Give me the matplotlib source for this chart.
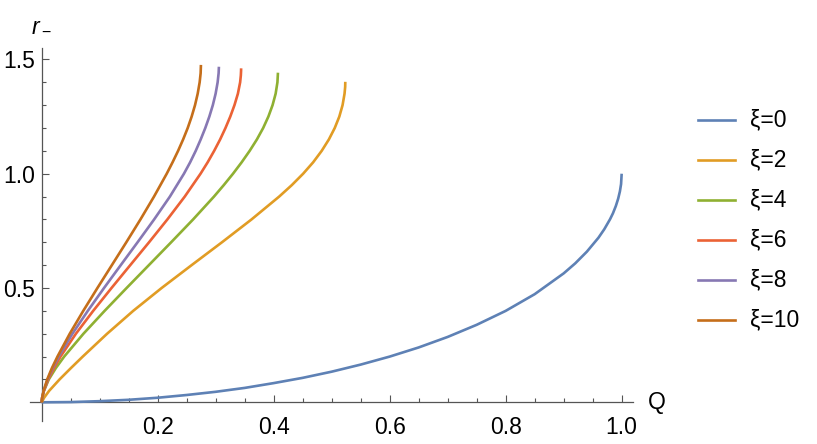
import numpy as np
import matplotlib
matplotlib.use("Agg")
from matplotlib import pyplot as plt
from matplotlib.lines import Line2D
from matplotlib.ticker import FixedLocator

plt.rcParams['font.family'] = ['Liberation Sans', 'DejaVu Sans']
plt.rcParams['mathtext.fontset'] = 'custom'
plt.rcParams['mathtext.it'] = 'Liberation Sans:italic'
plt.rcParams['mathtext.rm'] = 'Liberation Sans'

# values (Q, r_-)
q_xi0 = [0, 0.05, 0.1, 0.15, 0.2, 0.25, 0.3, 0.35, 0.4, 0.45, 0.5, 0.55, 0.6, 0.65, 0.7, 0.75,
         0.8, 0.85, 0.9, 0.92, 0.94, 0.96, 0.97, 0.98, 0.985, 0.99, 0.994, 0.997, 0.999, 1.0]
r_xi0 = [0, 0.001, 0.005, 0.011, 0.020, 0.032, 0.046, 0.063, 0.084, 0.107, 0.134, 0.165, 0.200,
         0.240, 0.286, 0.339, 0.400, 0.473, 0.564, 0.608, 0.659, 0.720, 0.757, 0.801, 0.827,
         0.859, 0.891, 0.923, 0.955, 1.0]

# for xi > 0 the points are read at fixed heights r_-
r_xi2 = [0, 0.02, 0.05, 0.1, 0.15, 0.2, 0.3, 0.4, 0.5, 0.6, 0.7, 0.8, 0.9, 0.95, 1.0, 1.05,
         1.1, 1.15, 1.2, 1.25, 1.3, 1.35, 1.38, 1.402]
q_xi2 = [0, 0.0042, 0.0128, 0.0308, 0.0505, 0.0708, 0.1128, 0.1578, 0.2068, 0.2585, 0.3108,
         0.3618, 0.4095, 0.4312, 0.4508, 0.4681, 0.4828, 0.4952, 0.5053, 0.5132, 0.5188,
         0.5222, 0.5233, 0.5235]

r_xi4 = [0, 0.02, 0.05, 0.1, 0.15, 0.2, 0.3, 0.4, 0.5, 0.6, 0.7, 0.8, 0.9, 0.95, 1.0, 1.05,
         1.1, 1.15, 1.2, 1.25, 1.3, 1.35, 1.4, 1.442]
q_xi4 = [0, 0.0010, 0.0038, 0.0123, 0.0245, 0.0388, 0.0720, 0.1085, 0.1464, 0.1848, 0.2232,
         0.2611, 0.2971, 0.3139, 0.3299, 0.3448, 0.3586, 0.3711, 0.3819, 0.3909, 0.3981,
         0.4034, 0.4065, 0.4074]

r_xi6 = [0, 0.02, 0.05, 0.1, 0.15, 0.2, 0.3, 0.4, 0.5, 0.6, 0.7, 0.8, 0.9, 1.0, 1.05, 1.1,
         1.15, 1.2, 1.25, 1.3, 1.35, 1.4, 1.43, 1.45, 1.461]
q_xi6 = [0, 0.0009, 0.0038, 0.0113, 0.0213, 0.0325, 0.0590, 0.0888, 0.1204, 0.1527, 0.1851,
         0.2167, 0.2467, 0.2739, 0.2862, 0.2974, 0.3077, 0.3169, 0.3252, 0.3324, 0.3383,
         0.3422, 0.3434, 0.3438, 0.3439]

r_xi8 = [0, 0.02, 0.05, 0.1, 0.15, 0.2, 0.3, 0.4, 0.5, 0.6, 0.7, 0.8, 0.9, 1.0, 1.05, 1.1,
         1.15, 1.2, 1.25, 1.3, 1.35, 1.4, 1.44, 1.468]
q_xi8 = [0, 0.0008, 0.0035, 0.0103, 0.0190, 0.0293, 0.0530, 0.0795, 0.1075, 0.1363, 0.1653,
         0.1939, 0.2211, 0.2453, 0.2560, 0.2656, 0.2742, 0.2821, 0.2891, 0.2951, 0.2999,
         0.3034, 0.3051, 0.3056]

r_xi10 = [0, 0.02, 0.05, 0.1, 0.15, 0.2, 0.3, 0.4, 0.5, 0.6, 0.7, 0.8, 0.9, 1.0, 1.05, 1.1,
          1.15, 1.2, 1.25, 1.3, 1.35, 1.4, 1.44, 1.476]
q_xi10 = [0, 0.0008, 0.0033, 0.0095, 0.0177, 0.0272, 0.0484, 0.0717, 0.0961, 0.1210, 0.1459,
          0.1703, 0.1937, 0.2156, 0.2257, 0.2352, 0.2439, 0.2518, 0.2586, 0.2644, 0.2690,
          0.2724, 0.2741, 0.2746]

curves = [(q_xi0, r_xi0), (q_xi2, r_xi2), (q_xi4, r_xi4),
          (q_xi6, r_xi6), (q_xi8, r_xi8), (q_xi10, r_xi10)]
labels = ["ξ=0", "ξ=2", "ξ=4", "ξ=6", "ξ=8", "ξ=10"]
colors = ["#5E81B5", "#E19C24", "#8FB032", "#EB6235", "#8778B3", "#C56E1A"]

fig = plt.figure(figsize=(8.17, 4.44), dpi=100)
ax = fig.add_axes([0.0368, 0.0527, 0.7383, 0.8392])

for (q, r), c in zip(curves, colors):
    ax.plot(q, r, color=c, lw=1.9, zorder=3, solid_capstyle='butt', solid_joinstyle='round')

ax.set_xlim(-0.02, 1.02)
ax.set_ylim(-0.08, 1.55)

axcol = "#555555"
for s in ["top", "right"]:
    ax.spines[s].set_visible(False)
for s in ["left", "bottom"]:
    ax.spines[s].set_position(("data", 0))
    ax.spines[s].set_color(axcol)
    ax.spines[s].set_linewidth(0.9)

ax.xaxis.set_major_locator(FixedLocator([0.2, 0.4, 0.6, 0.8, 1.0]))
ax.xaxis.set_minor_locator(FixedLocator([i * 0.05 for i in range(1, 20) if i % 4 != 0]))
ax.yaxis.set_major_locator(FixedLocator([0.5, 1.0, 1.5]))
ax.yaxis.set_minor_locator(FixedLocator([0.1, 0.2, 0.3, 0.4, 0.6, 0.7, 0.8, 0.9,
                                         1.1, 1.2, 1.3, 1.4]))
ax.xaxis.set_major_formatter(lambda v, p: "%.1f" % v)
ax.yaxis.set_major_formatter(lambda v, p: "%.1f" % v)

ax.tick_params(which="both", direction="in", color=axcol, width=0.8, labelsize=16.5)
ax.tick_params(which="major", length=5)
ax.tick_params(which="minor", length=2.8)
ax.tick_params(axis="x", which="major", pad=10)
ax.tick_params(axis="y", which="major", pad=5)

ax.text(1.045, 0, "Q", fontsize=16.5, ha="left", va="center", transform=ax.transData,
        clip_on=False)
fig.text(0.038, 0.945, r"$r_-$", fontsize=16.5, ha="left", va="center")

# legend
for i, (lab, c) in enumerate(zip(labels, colors)):
    y = 1 - (120 + 40 * i) / 444
    fig.add_artist(Line2D([698 / 817, 735 / 817], [y, y], color=c, lw=1.9))
    fig.text(750 / 817, y, lab, fontsize=16.5, ha="left", va="center")

fig.savefig("out.png", dpi=100)
